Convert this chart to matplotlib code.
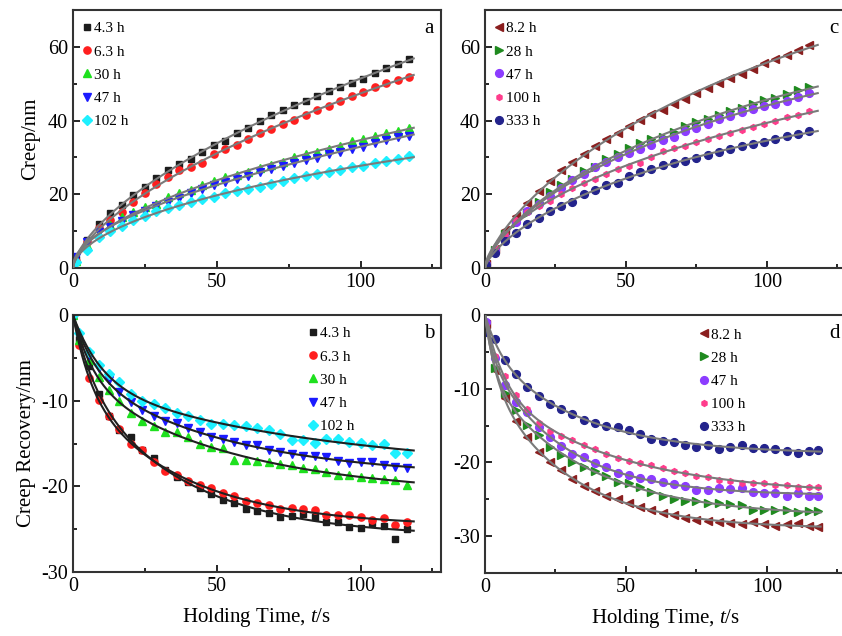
import numpy as np
import matplotlib.pyplot as plt
from matplotlib.ticker import MultipleLocator

plt.rcParams['font.family'] = ['Liberation Serif', 'DejaVu Serif']
plt.rcParams['mathtext.fontset'] = 'custom'
plt.rcParams['mathtext.rm'] = 'Liberation Serif'
plt.rcParams['mathtext.it'] = 'Liberation Serif:italic'
plt.rcParams['axes.unicode_minus'] = False

# ---- (a) creep, first set of samples ----
t_a = [1, 5, 9, 13, 17, 21, 25, 29, 33, 37, 41, 45, 49, 53, 57, 61, 65, 69, 73, 77,
       81, 85, 89, 93, 97, 101, 105, 109, 113, 117]
creep_43 = [2.5, 7.5, 12, 15, 17, 19.8, 22, 24.3, 26.5, 28.2, 29.6, 31.5, 33.3, 34.5, 36.5,
            38, 40, 41.4, 43, 44.1, 45.3, 46.8, 47.9, 49, 50.2, 51.4, 52.8, 54.2, 55.3, 56.8]
creep_63 = [2, 7.1, 10.8, 13.1, 15.2, 17.8, 20.3, 22.7, 24.8, 26.5, 27.5, 28.6, 31, 32.3, 33.4,
            35, 36.5, 37.8, 39, 40.1, 41.4, 42.9, 44, 45.4, 46.6, 47.8, 49, 50.3, 51, 51.8]
creep_30 = [1.8, 6.2, 9.1, 11.6, 13.9, 15.3, 16.6, 17.4, 19.3, 20.4, 21.2, 22.6, 23.7, 24.6, 25.3,
            26.1, 27, 27.9, 28.8, 30.2, 30.9, 31.4, 32.2, 33.1, 34.5, 35, 35.9, 36.7, 37.3, 37.9]
creep_47 = [2.9, 7.1, 9.8, 11.2, 12.7, 14.4, 15.5, 16.9, 18, 19.1, 20.3, 21.3, 22.6, 23.4, 24.1,
            25, 26, 26.9, 27.6, 28.4, 29.2, 29.9, 30.9, 31.6, 32.3, 32.9, 33.8, 34.6, 35.6, 35.9]
creep_102 = [1.5, 4.8, 8.4, 10, 11.5, 13, 14.2, 15.6, 16.4, 17.1, 17.8, 18.6, 19.4, 20.3, 21,
             21.5, 22, 22.7, 23.5, 24.3, 24.9, 25.4, 26, 26.6, 27.3, 27.8, 28.6, 29.1, 29.7, 30.5]

# ---- (b) creep recovery, first set ----
t_b = [0, 2, 5.5, 9, 12.5, 16, 20, 24, 28, 32, 36, 40, 44, 48, 52, 56, 60, 64, 68, 72,
       76, 80, 84, 88, 92, 96, 100, 104, 108, 112, 116]
rec_43 = [0, -2.8, -6, -9.2, -11.8, -13.4, -14.2, -15.7, -16.7, -18.1, -18.9, -19.5, -20.2, -20.9,
          -21.6, -22, -22.6, -22.9, -23.1, -23.6, -23.5, -23.2, -23.6, -24.2, -24.2, -24.8, -24.9,
          -24.3, -24.6, -26.1, -25]
rec_63 = [0, -3.5, -7.4, -9.9, -11.8, -13.3, -15, -15.8, -17.2, -18.2, -18.7, -19.4, -19.8, -20.2,
          -20.8, -21.1, -21.7, -21.9, -22.2, -22.6, -22.5, -22.7, -22.8, -23.4, -23.3, -23.4, -23.6,
          -23.9, -23.7, -24.5, -24.2]
rec_30 = [0, -2.9, -5.3, -7.2, -8.8, -10, -11.4, -12.4, -12.9, -13.6, -13.7, -14.2, -15, -15.4,
          -15.5, -16.9, -16.9, -17, -17.1, -17.4, -17.5, -17.8, -18, -18.3, -18.7, -18.7, -18.9,
          -19, -19.1, -19.3, -19.8]
rec_47 = [0, -2.5, -4.7, -6.2, -7.6, -9, -10.2, -11.1, -11.8, -12.4, -12.6, -13.2, -13.7, -14.2,
          -14.5, -14.8, -15.2, -15.2, -15.8, -16, -16.2, -16.4, -16.4, -16.6, -17, -17.3, -17.2,
          -17.2, -17.5, -17.7, -17.8]
rec_102 = [0, -2.1, -4.3, -5.8, -6.9, -7.8, -9.2, -10, -10.4, -10.9, -11.4, -11.8, -12.3, -12.7,
           -12.7, -12.8, -13, -13.2, -13.4, -13.9, -14.6, -14.6, -14.9, -14.5, -14.5, -14.8, -14.9,
           -15.2, -15.1, -16.1, -16.1]

# ---- (c) creep, second set ----
t_c = [0.5, 3.5, 7, 11, 15, 19, 23, 27, 31, 35, 39, 43, 47, 51, 55, 59, 63, 67, 71, 75,
       79, 83, 87, 91, 95, 99, 103, 107, 111, 115]
creep_82 = [1, 5.1, 10.2, 14.2, 17.6, 21, 23.5, 26.5, 28.8, 30.8, 33, 34.9, 36.6, 38.6, 40.2,
            41.8, 43, 44.4, 45.8, 47.6, 48.9, 50.2, 51.6, 52.7, 54.1, 55.5, 56.7, 57.8, 59.1, 60.4]
creep_28 = [1, 5, 9.2, 12.3, 15, 18, 20.7, 22.6, 24.1, 26.2, 27.5, 29.6, 30.8, 32.5, 33.8,
            34.9, 35.6, 37, 38.5, 39.6, 40.3, 41.5, 42.5, 43.5, 44.4, 45.5, 46.1, 47.2, 48.3, 49.2]
creep_47c = [1, 4.8, 8.3, 12.5, 15.6, 17.5, 19.6, 21.8, 23.8, 25.5, 27.3, 28.7, 30.2, 31.2, 32.3,
             33.3, 34.8, 35.6, 37.1, 38.1, 39.2, 40.4, 41.3, 42.2, 43.2, 43.9, 44.4, 45.3, 46.5, 47.4]
creep_100 = [1, 5.5, 9.2, 12.9, 15.3, 16.8, 18.3, 20.2, 21.7, 23.1, 24.2, 25.5, 26.8, 27.6, 28.6,
             30.2, 31.7, 32.5, 33.2, 34.2, 35, 35.8, 36.7, 37.4, 38.2, 39.1, 40, 40.9, 41.6, 42.5]
creep_333 = [0.8, 4.2, 7.3, 9.6, 12, 13.6, 15.5, 16.9, 18, 20.1, 21.2, 22.4, 23.1, 25, 26.1,
             26.9, 27.9, 28.4, 29, 29.8, 30.7, 31.4, 32.4, 33, 33.6, 34.1, 34.9, 35.7, 36.4, 37.2]

# ---- (d) creep recovery, second set ----
t_d = [0.5, 3.5, 7, 11, 15, 19, 23, 27, 31, 35, 39, 43, 47, 51, 55, 59, 63, 67, 71, 75,
       79, 83, 87, 91, 95, 99, 103, 107, 111, 115, 118]
rec_82 = [-1.2, -7.5, -11.3, -14.4, -16.6, -18.6, -19.9, -21.1, -22.2, -23.2, -23.9, -24.5, -24.9,
          -25.5, -26, -26.4, -26.9, -27.2, -27.5, -27.8, -27.9, -28.1, -28.2, -28.3, -28.1, -28.4,
          -28.6, -28.4, -28.2, -28.6, -28.8]
rec_28 = [-1, -7.2, -10.6, -12.9, -14.9, -16.3, -17.9, -19, -20, -20.6, -21.2, -21.9, -22.6, -22.8,
          -23.4, -24, -24.6, -24.9, -25.2, -25.3, -25.5, -25.5, -25.6, -25.8, -26.4, -26.5, -26.5,
          -26.5, -26.7, -26.6, -26.6]
rec_47d = [-1, -5.9, -9.5, -11.8, -13.2, -15.2, -16.6, -17.8, -18.9, -19.3, -20.1, -20.6, -21.5,
           -21.7, -22.1, -22.3, -22.6, -22.9, -23.2, -23.7, -23.7, -23.5, -23.6, -23.5, -24, -24.1,
           -24.1, -24.5, -24.2, -24.5, -24.6]
rec_100 = [-1.5, -5.6, -8.3, -10.8, -12.7, -14.6, -15.7, -16.4, -17, -17.6, -18.2, -18.8, -19.4,
           -19.8, -20.1, -20.4, -20.8, -21.2, -21.5, -21.8, -22, -22.4, -22.5, -22.8, -22.8, -22.8,
           -23, -23.1, -23.4, -23.4, -23.3]
rec_333 = [-2.3, -3.3, -6.1, -8, -9.8, -11, -12.1, -12.7, -13.5, -14.2, -14.6, -15, -15.2, -15.6,
           -16.2, -16.8, -17.1, -17.2, -17.6, -17.9, -17.6, -18.2, -17.9, -17.7, -18, -18.1, -18.2,
           -18.5, -18.7, -18.5, -18.3]

labels_1 = ['4.3 h', '6.3 h', '30 h', '47 h', '102 h']
labels_2 = ['8.2 h', '28 h', '47 h', '100 h', '333 h']
colors_1 = ['#1c1c1c', '#ff1e1e', '#1ee01e', '#1a1aff', '#1ef0ff']
colors_2 = ['#8a1e1e', '#1f8a1f', '#8c3cff', '#ff3c8c', '#23238c']
markers_1 = ['s', 'o', '^', 'v', 'D']
markers_2 = ['<', '>', 'o', 'h', 'o']
msizes_1 = [4.4, 5.2, 6, 6, 4.8]
msizes_2 = [6, 6, 5.6, 4.2, 5.6]


def power_fit(t, y):
    # y = A * t**n + B * t, least squares over a grid of exponents
    t = np.asarray(t, float)
    y = np.asarray(y, float)
    best = None
    for n in np.linspace(0.2, 0.9, 141):
        M = np.column_stack([t ** n, t])
        coef = np.linalg.lstsq(M, y, rcond=None)[0]
        err = np.sum((M @ coef - y) ** 2)
        if best is None or err < best[0]:
            best = (err, coef, n)
    _, (A, B), n = best
    return lambda x: A * x ** n + B * x


def decay_fit(t, y):
    # y = a*(1 - exp(-t/tau1)) + b*(1 - exp(-t/tau2))
    t = np.asarray(t, float)
    y = np.asarray(y, float)
    best = None
    for tau1 in np.arange(1.0, 20.0, 0.5):
        for tau2 in np.arange(12.0, 90.0, 2.0):
            M = np.column_stack([1 - np.exp(-t / tau1), 1 - np.exp(-t / tau2)])
            coef = np.linalg.lstsq(M, y, rcond=None)[0]
            err = np.sum((M @ coef - y) ** 2)
            if best is None or err < best[0]:
                best = (err, coef, tau1, tau2)
    _, (a, b), t1, t2 = best
    return lambda x: a * (1 - np.exp(-x / t1)) + b * (1 - np.exp(-x / t2))


def draw(ax, t, series, labels, colors, markers, sizes, fitter, line_color, t_end):
    tl = np.linspace(0, t_end, 300)
    for y, lab, c, m, s in zip(series, labels, colors, markers, sizes):
        ax.plot(t, y, ls='none', marker=m, ms=s, color=c, mec=c, label=lab, zorder=2)
        f = fitter(t, y)
        ax.plot(tl, f(tl), color=line_color, lw=1.5, zorder=3)


def style(ax, ylim, letter):
    ax.set_xlim(0, 128)
    ax.set_ylim(*ylim)
    ax.xaxis.set_major_locator(MultipleLocator(50))
    ax.xaxis.set_minor_locator(MultipleLocator(25))
    ax.tick_params(which='both', direction='in', labelsize=14.5, top=False, right=False)
    ax.tick_params(which='major', length=5, width=1.2)
    ax.tick_params(which='minor', length=3, width=1.2)
    for sp in ax.spines.values():
        sp.set_linewidth(1.5)
        sp.set_color('#333333')
    ax.text(0.955, 0.93, letter, transform=ax.transAxes, fontsize=15, ha='left', va='center')


fig = plt.figure(figsize=(8.42, 6.36), dpi=100)
ax_a = fig.add_axes([0.0867, 0.5786, 0.4371, 0.4057])
ax_b = fig.add_axes([0.0867, 0.1006, 0.4371, 0.4041])
ax_c = fig.add_axes([0.576, 0.5786, 0.4287, 0.4057])
ax_d = fig.add_axes([0.576, 0.0991, 0.4287, 0.4057])

draw(ax_a, t_a, [creep_43, creep_63, creep_30, creep_47, creep_102], labels_1, colors_1,
     markers_1, msizes_1, power_fit, '#7a7a7a', 118.5)
draw(ax_b, t_b, [rec_43, rec_63, rec_30, rec_47, rec_102], labels_1, colors_1,
     markers_1, msizes_1, decay_fit, '#202020', 118.5)
draw(ax_c, t_c, [creep_82, creep_28, creep_47c, creep_100, creep_333], labels_2, colors_2,
     markers_2, msizes_2, power_fit, '#7a7a7a', 118)
draw(ax_d, t_d, [rec_82, rec_28, rec_47d, rec_100, rec_333], labels_2, colors_2,
     markers_2, msizes_2, decay_fit, '#7a7a7a', 119)

for ax in (ax_a, ax_c):
    ax.yaxis.set_major_locator(MultipleLocator(20))
    ax.yaxis.set_minor_locator(MultipleLocator(10))
for ax in (ax_b, ax_d):
    ax.yaxis.set_major_locator(MultipleLocator(10))
    ax.yaxis.set_minor_locator(MultipleLocator(5))

style(ax_a, (0, 70), 'a')
style(ax_b, (-30, 0), 'b')
style(ax_c, (0, 70), 'c')
style(ax_d, (-35, 0), 'd')

leg_kw = dict(frameon=False, fontsize=11, handlelength=0.6, handletextpad=0.15,
              labelspacing=0.62, borderaxespad=0.2)
ax_a.legend(loc='upper left', bbox_to_anchor=(0.0, 0.99), **leg_kw)
ax_c.legend(loc='upper left', bbox_to_anchor=(0.0, 0.99), **leg_kw)
ax_b.legend(loc='upper left', bbox_to_anchor=(0.615, 0.99), **leg_kw)
ax_d.legend(loc='upper left', bbox_to_anchor=(0.57, 0.985), **leg_kw)

ax_a.set_ylabel('Creep/nm', fontsize=15, labelpad=6)
ax_b.set_ylabel('Creep Recovery/nm', fontsize=15, labelpad=4)
ax_b.set_xlabel('Holding Time, $t$/s', fontsize=15, labelpad=7)
ax_d.set_xlabel('Holding Time, $t$/s', fontsize=15, labelpad=7)

fig.savefig('out.png', dpi=100)
